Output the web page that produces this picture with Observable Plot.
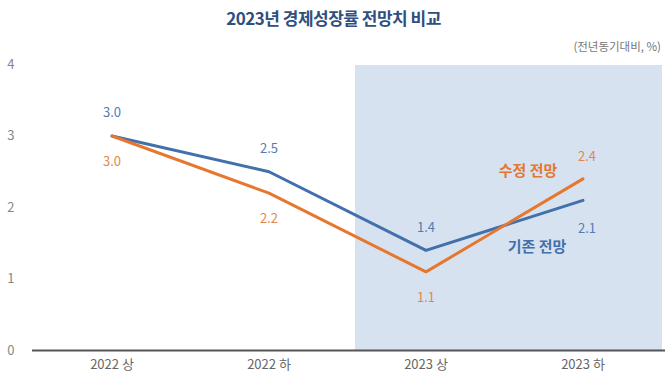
<!DOCTYPE html>
<html><head><meta charset="utf-8">
<script src="https://cdn.jsdelivr.net/npm/d3@7"></script>
<script src="https://cdn.jsdelivr.net/npm/@observablehq/plot@0.6"></script>
<style>
body{margin:0;background:#fff;font-family:"Noto Sans CJK KR","Noto Sans",sans-serif;}
#wrap{position:relative;width:667px;height:389px;}
#title{position:absolute;top:5px;left:0;width:667px;text-align:center;font-size:17px;font-weight:bold;color:#2f4f7f;letter-spacing:-0.5px;}
#unit{position:absolute;top:38px;right:6px;font-size:11.5px;color:#777;}
#chart{position:absolute;top:0;left:0;}
</style></head>
<body><div id="wrap"><div id="chart"></div><div id="title">2023년 경제성장률 전망치 비교</div><div id="unit">(전년동기대비, %)</div></div>
<script>
const categories = ["2022 상", "2022 하", "2023 상", "2023 하"];
const baseline = [3.0, 2.5, 1.4, 2.1];   // 기존 전망
const revised = [3.0, 2.2, 1.1, 2.4];    // 수정 전망
const shaded = ["2023 상", "2023 하"];
const yTicks = [0, 1, 2, 3, 4];

const blue = "#4170ab", orange = "#e6772e";
const blueLbl = "#4f7db5", orangeLbl = "#e2874c";
const base = categories.map((c, i) => ({c, v: baseline[i], i}));
const rev = categories.map((c, i) => ({c, v: revised[i], i}));
const last = categories.length - 1;
const font = "Noto Sans CJK KR";
const shadeFill = "#d7e2f0";

const chart = Plot.plot({
  width: 667, height: 389,
  marginLeft: 32, marginRight: 6, marginTop: 64, marginBottom: 39,
  style: {fontFamily: font, background: "transparent"},
  x: {domain: categories, padding: 0, label: null},
  y: {domain: [0, 4], label: null},
  marks: [
    Plot.barY(shaded.slice(0, 1), {x: d => d, y1: 0, y2: 4, fill: shadeFill, insetLeft: 8, insetRight: -1, insetTop: 1}),
    Plot.barY(shaded.slice(1), {x: d => d, y1: 0, y2: 4, fill: shadeFill, insetLeft: 0, insetRight: -1, insetTop: 1}),
    Plot.axisX({tickSize: 0, tickPadding: 9, fontSize: 13, color: "#666", label: null}),
    Plot.axisY({ticks: yTicks, tickSize: 0, tickPadding: 18, fontSize: 13, color: "#888", label: null, tickFormat: d => d}),
    Plot.ruleY([0], {stroke: "#555", strokeWidth: 2, insetRight: -4}),
    Plot.line(base, {x: "c", y: "v", stroke: blue, strokeWidth: 3}),
    Plot.line(rev, {x: "c", y: "v", stroke: orange, strokeWidth: 3}),
    Plot.text(base.filter(d => d.i < last), {x: "c", y: "v", text: d => d.v.toFixed(1), dy: -23, fill: blueLbl, fontSize: 13}),
    Plot.text(base.filter(d => d.i === last), {x: "c", y: "v", text: d => d.v.toFixed(1), dy: 28, dx: 4, fill: blueLbl, fontSize: 13}),
    Plot.text(rev.filter(d => d.i < last), {x: "c", y: "v", text: d => d.v.toFixed(1), dy: 26, fill: orangeLbl, fontSize: 13}),
    Plot.text(rev.filter(d => d.i === last), {x: "c", y: "v", text: d => d.v.toFixed(1), dy: -22, dx: 4, fill: orangeLbl, fontSize: 13}),
    Plot.text(rev.filter(d => d.i === last), {x: "c", y: "v", text: () => "수정 전망", dx: -55, dy: -8, fill: orange, fontSize: 15, fontWeight: "bold"}),
    Plot.text(base.filter(d => d.i === last), {x: "c", y: "v", text: () => "기존 전망", dx: -46, dy: 47, fill: blue, fontSize: 15, fontWeight: "bold"})
  ]
});
document.getElementById("chart").appendChild(chart);
</script></body></html>
